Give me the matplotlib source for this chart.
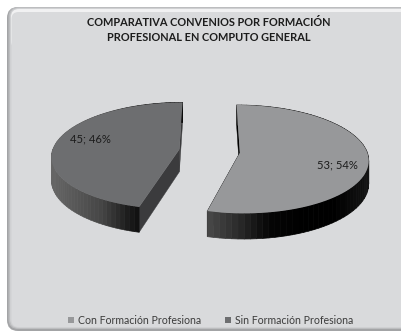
import numpy as np
import matplotlib
matplotlib.use('Agg')
import matplotlib.pyplot as plt
from matplotlib.patches import FancyBboxPatch, Polygon
from matplotlib.collections import PolyCollection
from matplotlib.colors import LinearSegmentedColormap

# data
categories = ['Con Formación Profesiona', 'Sin Formación Profesiona']
values = [53, 45]
percents = [54, 46]
slice_colors = ['#97989a', '#6d6e70']
title_lines = ['COMPARATIVA CONVENIOS POR FORMACIÓN', 'PROFESIONAL EN COMPUTO GENERAL']

# pie geometry, in pixels
CX, CY = 209.5, 151
RX, RY = 127, 53
PERSP = 0.12
EXPLODE = 0.24
DEPTH = 22.5

plt.rcParams['font.family'] = ['Lato', 'DejaVu Sans']


def project(u, v, depth=0):
  """Unit disc to pixels, the front of the pie is bigger."""
  f = 1 / (1 + PERSP * v)
  return CX + RX * u * f, CY - RY * v * f + depth * f


def slice_outline(start, end, n=80):
  t = np.linspace(start, end, n)
  mid = (start + end) / 2
  ou = EXPLODE * np.sin(mid)
  ov = EXPLODE * np.cos(mid)
  return ou + np.sin(t), ov + np.cos(t), ou, ov


def wall(ax, u, v, cmap):
  x0, y0 = project(u, v)
  x1, y1 = project(u, v, DEPTH)
  quads = []
  for i in range(len(u) - 1):
    quads.append([(x0[i], y0[i]), (x0[i + 1], y0[i + 1]), (x1[i + 1], y1[i + 1]), (x1[i], y1[i])])
  # the shade follows the horizontal position on the wall
  pos = (x0[:-1] - x0.min()) / (x0.max() - x0.min())
  cols = cmap(pos)
  ax.add_collection(PolyCollection(quads, facecolors=cols, edgecolors=cols, linewidths=0.5, zorder=2))


def flat_wall(ax, pu, pv, color):
  x0, y0 = project(pu[0], pv[0])
  x1, y1 = project(pu[1], pv[1])
  x2, y2 = project(pu[1], pv[1], DEPTH)
  x3, y3 = project(pu[0], pv[0], DEPTH)
  ax.add_patch(Polygon([(x0, y0), (x1, y1), (x2, y2), (x3, y3)], facecolor=color, edgecolor=color, linewidth=0.3, zorder=1.5))


def panel_layer(ax, x, y, h, radius, color, z):
  ax.add_patch(FancyBboxPatch((x, y), 420, h, boxstyle=f'round,pad=0,rounding_size={radius}',
                              facecolor=color, edgecolor='none', zorder=z))


fig = plt.figure(figsize=(4.01, 3.33), dpi=100, facecolor='white')
ax = fig.add_axes([0, 0, 1, 1])
ax.set_xlim(0, 401)
ax.set_ylim(333, 0)
ax.axis('off')

# panel with its soft edges, only the top one is light
panel_layer(ax, 7, 7, 324, 11, '#a3a4a6', 0)
panel_layer(ax, 8.5, 7, 322, 10, '#bcbdbf', 0.05)
panel_layer(ax, 10, 8, 320, 9, '#cfd0d2', 0.1)
panel_layer(ax, 11, 9, 40, 8, '#f1f1f2', 0.15)
panel_layer(ax, 11.5, 12, 315, 7, '#d9dadc', 0.2)

for i, line in enumerate(title_lines):
  ax.text(208.5, 23 + i * 14.7, line, ha='center', va='center', fontsize=7.9, fontweight='bold',
          color='#1c1c1c', zorder=5)

# angles come from the values, clockwise from twelve o'clock
fracs = np.array(values) / sum(values)
edges = np.concatenate([[0], np.cumsum(fracs)]) * 2 * np.pi

right_shade = LinearSegmentedColormap.from_list('r', ['#4c4c4c', '#2c2c2c', '#060606', '#000000', '#000000', '#141414'])
left_shade = LinearSegmentedColormap.from_list('l', ['#666666', '#575757', '#454545', '#1c1c1c', '#000000', '#000000'])
shades = [right_shade, left_shade]
flat_colors = ['#000000', '#3b3b3d']

label_pos = [(337.5, 165), (90.5, 138.5)]

for i in range(len(values)):
  u, v, ou, ov = slice_outline(edges[i], edges[i + 1])
  # straight cut walls first, then the round one, then the top
  flat_wall(ax, [ou, u[0]], [ov, v[0]], flat_colors[i])
  flat_wall(ax, [ou, u[-1]], [ov, v[-1]], flat_colors[i])
  wall(ax, u, v, shades[i])
  xt, yt = project(np.concatenate([[ou], u]), np.concatenate([[ov], v]))
  ax.add_patch(Polygon(np.column_stack([xt, yt]), facecolor=slice_colors[i], edgecolor='none', zorder=3))
  ax.text(label_pos[i][0], label_pos[i][1], f'{values[i]}; {percents[i]}%', ha='center', va='center',
          fontsize=8.1, color='#1c1c1c', zorder=5)

# legend
legend_x = [68, 225]
for i in range(len(categories)):
  ax.scatter([legend_x[i] + 3], [320], marker='s', s=17, color=slice_colors[i], linewidths=0, zorder=5)
  ax.text(legend_x[i] + 10, 320, categories[i], ha='left', va='center', fontsize=7.6, color='#3c3c3c', zorder=5)

fig.savefig('out.png', dpi=100, facecolor='white')
